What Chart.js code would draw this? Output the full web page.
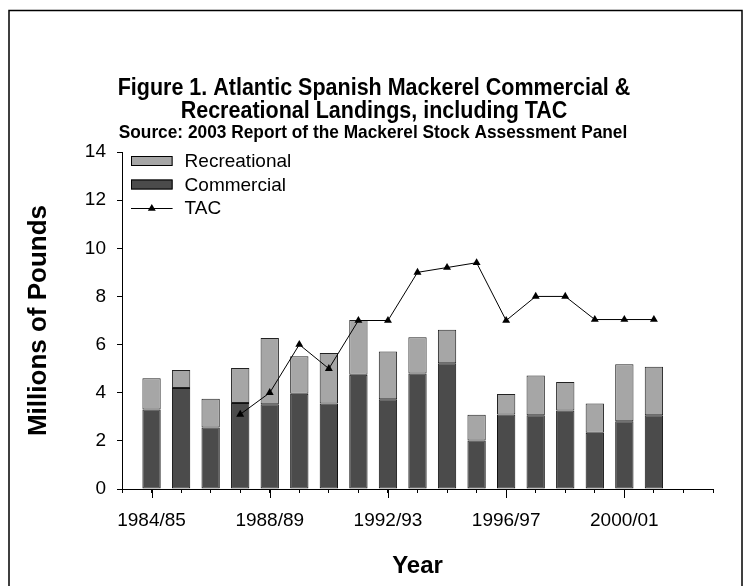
<!DOCTYPE html>
<html lang="en">
<head>
  <meta charset="UTF-8">
  <title>Atlantic Spanish Mackerel Landings</title>
  <script src="https://cdn.jsdelivr.net/npm/chart.js"></script>
  <style>
    html, body { margin: 0; padding: 0; background: #fff; }
    canvas { display: block; }
  </style>
</head>
<body>
  <canvas id="grafico" width="747" height="586"></canvas>

  <script>
    // fishing seasons, one bar each
    const seasons = ['1984/85', '1985/86', '1986/87', '1987/88', '1988/89', '1989/90',
                     '1990/91', '1991/92', '1992/93', '1993/94', '1994/95', '1995/96',
                     '1996/97', '1997/98', '1998/99', '1999/00', '2000/01', '2001/02'];
    // millions of pounds
    const commercial   = [3.30, 4.20, 2.56, 3.57, 3.52, 3.96, 3.55, 4.75, 3.73,
                          4.80, 5.22, 2.01, 3.09, 3.06, 3.26, 2.34, 2.81, 3.06];
    const recreational = [1.30, 0.74, 1.19, 1.46, 2.75, 1.55, 2.10, 2.27, 1.98,
                          1.50, 1.40, 1.07, 0.86, 1.66, 1.19, 1.21, 2.37, 2.02];
    const tac          = [null, null, null, 3.1, 4.0, 6.0, 5.0, 7.0, 7.0,
                          9.0, 9.2, 9.4, 7.0, 8.0, 8.0, 7.04, 7.04, 7.04];
    const yMax = 14, yStep = 2;

    const titleLines = ['Figure 1. Atlantic Spanish Mackerel Commercial &',
                        'Recreational Landings, including TAC'];
    const subtitle = 'Source: 2003 Report of the Mackerel Stock Assessment Panel';

    const FONT = '"Liberation Sans", Arial, sans-serif';
    Chart.defaults.font.family = FONT;
    Chart.defaults.color = '#000';

    const toPoints = arr => arr.map((v, i) => ({ x: i, y: v }));

    function triangle(ctx, x, y, r) {
      let rad = 0;
      ctx.beginPath();
      for (let k = 0; k < 3; k++) {
        const px = x + Math.sin(rad) * r, py = y - Math.cos(rad) * r;
        k === 0 ? ctx.moveTo(px, py) : ctx.lineTo(px, py);
        rad += 2 * Math.PI / 3;
      }
      ctx.closePath();
      ctx.fill();
    }

    // slightly condensed bold text, like the original title
    function narrowText(ctx, text, x, y, size, squeeze) {
      ctx.save();
      ctx.translate(x, y);
      ctx.scale(squeeze, 1);
      ctx.font = 'bold ' + size + 'px ' + FONT;
      ctx.fillText(text, 0, 0);
      ctx.restore();
    }

    // frame, titles, long ticks and the legend box
    const decor = {
      id: 'decor',
      beforeDraw(chart) {
        const ctx = chart.ctx;
        ctx.save();
        ctx.fillStyle = '#fff';
        ctx.fillRect(0, 0, chart.width, chart.height);
        ctx.strokeStyle = '#000';
        ctx.lineWidth = 1.5;
        ctx.strokeRect(9, 10.5, 733, 620);
        ctx.fillStyle = '#000';
        ctx.textAlign = 'center';
        narrowText(ctx, titleLines[0], 374, 95, 23, 0.935);
        narrowText(ctx, titleLines[1], 374, 118, 23, 0.935);
        narrowText(ctx, subtitle, 373, 138, 18.5, 0.935);
        ctx.restore();
      },
      afterDraw(chart) {
        const ctx = chart.ctx, xs = chart.scales.x, bottom = chart.chartArea.bottom;
        const left = chart.chartArea.left;
        ctx.save();
        ctx.strokeStyle = '#000';
        ctx.lineWidth = 1;
        ctx.beginPath();
        seasons.forEach((s, i) => {
          if (i % 4 === 0) {
            const px = Math.round(xs.getPixelForValue(i)) + 0.5;
            ctx.moveTo(px, bottom);
            ctx.lineTo(px, bottom + 9);
          }
        });
        ctx.stroke();

        // legend
        const ds = chart.data.datasets;
        const rows = [ds[1], ds[0], ds[2]];
        const bx = left + 9, bw = 41.6;
        ctx.font = '19px ' + FONT;
        ctx.textAlign = 'left';
        ctx.textBaseline = 'middle';
        rows.forEach((d, k) => {
          const cy = 161 + k * 23.5;
          if (d.type === 'line') {
            ctx.beginPath();
            ctx.moveTo(bx, cy + 0.5);
            ctx.lineTo(bx + bw, cy + 0.5);
            ctx.stroke();
            ctx.fillStyle = '#000';
            triangle(ctx, bx + bw / 2, cy + 0.5, 4.6);
          } else {
            ctx.fillStyle = d.backgroundColor;
            ctx.fillRect(bx, cy - 5, bw, 10);
            ctx.strokeRect(bx + 0.5, cy - 4.5, bw - 1, 9);
          }
          ctx.fillStyle = '#000';
          ctx.fillText(d.label, bx + bw + 12, cy + 1);
        });
        ctx.restore();
      }
    };

    new Chart(document.getElementById('grafico'), {
      type: 'bar',
      data: {
        datasets: [{
          label: 'Commercial',
          data: toPoints(commercial),
          backgroundColor: '#4b4b4b',
          borderColor: '#111',
          borderWidth: 1,
          borderSkipped: false,
          categoryPercentage: 0.62,
          barPercentage: 1,
          order: 1
        }, {
          label: 'Recreational',
          data: toPoints(recreational),
          backgroundColor: '#a6a6a6',
          borderColor: '#222',
          borderWidth: 1,
          borderSkipped: false,
          categoryPercentage: 0.62,
          barPercentage: 1,
          order: 1
        }, {
          type: 'line',
          label: 'TAC',
          data: toPoints(tac),
          stack: 'tac',
          borderColor: '#000',
          borderWidth: 1,
          pointStyle: 'triangle',
          pointRadius: 4.6,
          pointBackgroundColor: '#000',
          pointBorderWidth: 0,
          fill: false,
          order: 0
        }]
      },
      options: {
        responsive: false,
        animation: false,
        events: [],
        layout: { padding: { top: 152, right: 34, bottom: 0, left: 0 } },
        scales: {
          x: {
            type: 'linear',
            min: -1,
            max: 19,
            offset: false,
            stacked: true,
            ticks: {
              stepSize: 1,
              autoSkip: false,
              maxRotation: 0,
              font: { size: 19 },
              padding: 16,
              callback: v => (v >= 0 && v % 4 === 0 && seasons[v]) ? seasons[v] : ''
            },
            grid: { offset: false, drawOnChartArea: false, tickLength: 4, color: '#000' },
            border: { color: '#000', width: 1 },
            title: {
              display: true, text: 'Year',
              font: { size: 24, weight: 'bold' },
              padding: { top: 0, bottom: 5 }
            },
            afterFit(s) { s.height = 97; }
          },
          y: {
            min: 0,
            max: yMax,
            stacked: true,
            ticks: { stepSize: yStep, font: { size: 19 }, padding: 11 },
            grid: { drawOnChartArea: false, tickLength: 5, color: '#000' },
            border: { color: '#000', width: 1 },
            title: {
              display: true, text: 'Millions of Pounds',
              font: { size: 26, weight: 'bold' },
              padding: { top: 23, bottom: 0 }
            },
            afterFit(s) { s.width = 122; }
          }
        },
        plugins: {
          legend: { display: false },
          title: { display: false },
          tooltip: { enabled: false }
        }
      },
      plugins: [decor]
    });
  </script>
</body>
</html>
